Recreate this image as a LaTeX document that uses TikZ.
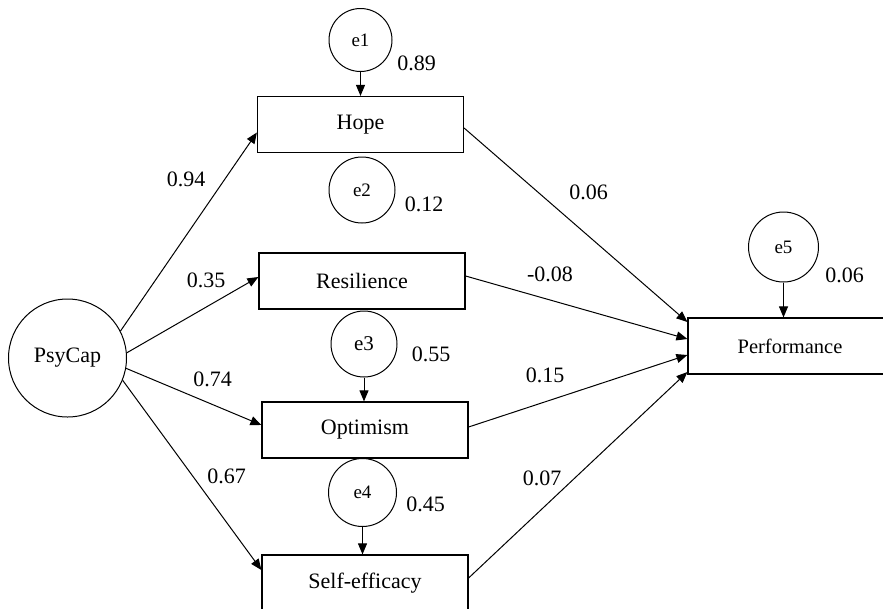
\documentclass[tikz,border=0pt]{standalone}
\usepackage{fontspec}
\setmainfont{Liberation Serif}
\usetikzlibrary{arrows.meta}

\begin{document}
\begin{tikzpicture}[x=1pt,y=-1pt,>={Triangle[length=11pt,width=9pt]},
  obsbox/.style={draw,line width=1.2pt,minimum width=206pt,minimum height=56pt,inner sep=0pt,font=\fontsize{22}{26}\selectfont},
  errcirc/.style={draw,circle,line width=1pt,inner sep=0pt,font=\fontsize{19}{22}\selectfont},
  coef/.style={inner sep=0pt,font=\fontsize{22}{26}\selectfont},
  effect/.style={->,line width=1pt}]
\clip (0,0) rectangle (883,608);
% latent factor and the four components
\node[draw,circle,line width=1pt,minimum size=118pt,inner sep=0pt,font=\fontsize{22}{26}\selectfont] (psycap) at (67.5,358) {PsyCap};
\node[obsbox] (hope) at (360.5,124.5) {Hope};
\node[obsbox] (resil) at (362,281) {Resilience};
\node[obsbox] (optim) at (365,430) {Optimism};
\node[obsbox] (selfeff) at (365,583) {Self-efficacy};
\node[obsbox,minimum width=204pt,font=\fontsize{20.5}{24}\selectfont] (perf) at (790,346) {Performance};
% error terms
\node[errcirc,minimum size=63pt] (e1) at (360.5,40) {e1};
\node[errcirc,minimum size=66pt] (e2) at (362,190) {e2};
\node[errcirc,minimum size=66pt,font=\fontsize{21}{24}\selectfont] (e3) at (364,344) {e3};
\node[errcirc,minimum size=68pt] (e4) at (362.5,492.5) {e4};
\node[errcirc,minimum size=70pt] (e5) at (783.5,247) {e5};
\draw[effect] (e1) -- (e1 |- hope.north);
\draw[effect] (e3) -- (e3 |- optim.north);
\draw[effect] (e4) -- (e4 |- selfeff.north);
\draw[effect] (e5) -- (e5 |- perf.north);
% paths from PsyCap
\draw[effect] (psycap.27) -- ([yshift=-8pt]hope.west);
\draw[effect] (psycap.5) -- ([yshift=4pt]resil.west);
\draw[effect] (psycap.-10) -- ([yshift=5pt]optim.west);
\draw[effect] (psycap.-22) -- ([yshift=13pt]selfeff.west);
% paths to Performance
\draw[effect] ([yshift=-3.5pt]hope.east) -- ([yshift=24pt]perf.west);
\draw[effect] ([yshift=5pt]resil.east) -- ([yshift=7pt]perf.west);
\draw[effect] ([yshift=3pt]optim.east) -- ([yshift=-9pt]perf.west);
\draw[effect] ([yshift=5pt]selfeff.east) -- ([yshift=-26pt]perf.west);
% estimates
\node[coef] (v1) at (416.5,63) {0.89};
\node[coef] (v2) at (424,204.5) {0.12};
\node[coef] (v3) at (431,354.5) {0.55};
\node[coef] (v4) at (425.5,504.5) {0.45};
\node[coef] (v5) at (844.5,275.5) {0.06};
\node[coef] (bhope) at (186,179.5) {0.94};
\node[coef] (bresil) at (206,280.5) {0.35};
\node[coef] (boptim) at (212.5,379.5) {0.74};
\node[coef] (bself) at (226.5,476.5) {0.67};
\node[coef] (phope) at (588.5,192.5) {0.06};
\node[coef] (presil) at (550,274.5) {-0.08};
\node[coef] (poptim) at (545,375) {0.15};
\node[coef] (pself) at (542,478.5) {0.07};
\end{tikzpicture}
\end{document}
